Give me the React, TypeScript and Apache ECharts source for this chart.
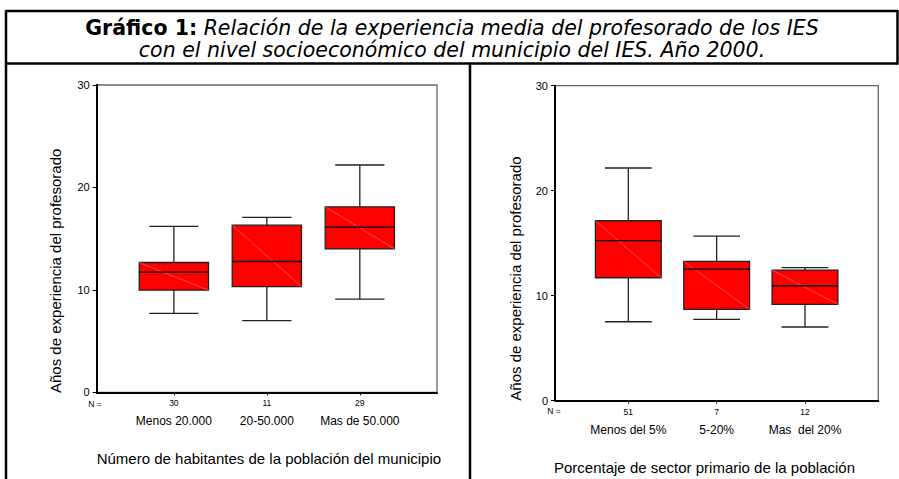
import React, { useEffect, useRef } from "react";
import * as echarts from "echarts";

const categoriesA = ["Menos 20.000", "20-50.000", "Mas de 50.000"];
const countsA = [30, 11, 29];
// [min, Q1, median, Q3, max]
const boxA = [
  [7.7, 9.97, 11.73, 12.67, 16.2],
  [7.0, 10.32, 12.77, 16.32, 17.07],
  [9.09, 14.0, 16.13, 18.11, 22.19],
];
const categoriesB = ["Menos del 5%", "5-20%", "Mas  del 20%"];
const countsB = [51, 7, 12];
const boxB = [
  [7.52, 11.71, 15.24, 17.14, 22.16],
  [7.75, 8.7, 12.54, 13.27, 15.68],
  [7.02, 9.18, 10.95, 12.44, 12.67],
];
const yTicks = [0, 10, 20, 30];
const titleBold = "Gráfico 1:";
const titleLine1 = " Relación de la experiencia media del profesorado de los IES";
const titleLine2 = "con el nivel socioeconómico del municipio del IES. Año 2000.";
const yTitle = "Años de experiencia del profesorado";
const xTitleA = "Número de habitantes de la población del municipio";
const xTitleB = "Porcentaje de sector primario de la población";

const AX_FONT = "Liberation Sans, Arial, sans-serif";

function renderBox(params: any, api: any) {
  const x = api.value(0);
  const lo = api.coord([x, api.value(1)]);
  const q1 = api.coord([x, api.value(2)]);
  const md = api.coord([x, api.value(3)]);
  const q3 = api.coord([x, api.value(4)]);
  const hi = api.coord([x, api.value(5)]);
  const bw = api.size([0.745, 0])[0];
  const cw = api.size([0.53, 0])[0];
  const cx = lo[0];
  const wStyle = { stroke: "#222", lineWidth: 1.3 };
  return {
    type: "group",
    children: [
      { type: "line", shape: { x1: cx, y1: hi[1], x2: cx, y2: lo[1] }, style: wStyle },
      { type: "line", shape: { x1: cx - cw / 2, y1: hi[1], x2: cx + cw / 2, y2: hi[1] }, style: wStyle },
      { type: "line", shape: { x1: cx - cw / 2, y1: lo[1], x2: cx + cw / 2, y2: lo[1] }, style: wStyle },
      {
        type: "rect",
        shape: { x: cx - bw / 2, y: q3[1], width: bw, height: q1[1] - q3[1] },
        style: { fill: "#ff0000", stroke: "#222", lineWidth: 1.3 },
      },
      {
        type: "line",
        shape: { x1: cx - bw / 2, y1: q3[1], x2: cx + bw / 2, y2: q1[1] },
        style: { stroke: "#ff7a7a", lineWidth: 0.6 },
      },
      {
        type: "line",
        shape: { x1: cx - bw / 2, y1: md[1], x2: cx + bw / 2, y2: md[1] },
        style: { stroke: "#000", lineWidth: 1.3 },
      },
    ],
  };
}

function makeX(gridIndex: number, cats: string[], counts: number[]) {
  return {
    type: "value",
    gridIndex,
    min: 0.17,
    max: 3.83,
    splitLine: { show: false },
    axisLine: { show: true, onZero: false, lineStyle: { color: "#000", width: 2 } },
    axisTick: { show: true, customValues: [1, 2, 3], length: 3, lineStyle: { color: "#000", width: 1 } },
    axisLabel: {
      show: true,
      customValues: [1, 2, 3],
      margin: 2,
      formatter: (v: number) => {
        const i = Math.round(v) - 1;
        return `{n|${counts[i]}}\n{c|${cats[i]}}`;
      },
      rich: {
        n: { fontSize: 8.5, lineHeight: 18, color: "#000", fontFamily: AX_FONT, align: "center" },
        c: { fontSize: 12, lineHeight: 18, color: "#000", fontFamily: AX_FONT, align: "center" },
      },
    },
  };
}

function makeY(gridIndex: number) {
  return {
    type: "value",
    gridIndex,
    min: yTicks[0],
    max: yTicks[yTicks.length - 1],
    interval: 10,
    splitLine: { show: false },
    axisLine: { show: true, lineStyle: { color: "#000", width: 2 } },
    axisTick: { show: true, length: 4, lineStyle: { color: "#000", width: 1 } },
    axisLabel: { color: "#000", fontSize: 11, fontFamily: AX_FONT, margin: 7 },
  };
}

export default function App() {
  const ref = useRef<HTMLDivElement>(null);
  useEffect(() => {
    document.body.style.margin = "0";
    const chart = echarts.init(ref.current!, undefined, { renderer: "svg" });
    const lineStyle = { stroke: "#000", lineWidth: 2.5 };
    chart.setOption({
      animation: false,
      backgroundColor: "#fff",
      grid: [
        { left: 96.7, top: 85, width: 340.3, height: 307.3, show: true, borderColor: "#666", borderWidth: 1.3, backgroundColor: "transparent" },
        { left: 555, top: 85.7, width: 323.3, height: 315, show: true, borderColor: "#666", borderWidth: 1.3, backgroundColor: "transparent" },
      ],
      xAxis: [makeX(0, categoriesA, countsA), makeX(1, categoriesB, countsB)],
      yAxis: [makeY(0), makeY(1)],
      series: [
        {
          type: "custom",
          xAxisIndex: 0,
          yAxisIndex: 0,
          renderItem: renderBox,
          encode: { x: 0, y: [1, 2, 3, 4, 5] },
          data: boxA.map((b, i) => [i + 1, ...b]),
        },
        {
          type: "custom",
          xAxisIndex: 1,
          yAxisIndex: 1,
          renderItem: renderBox,
          encode: { x: 0, y: [1, 2, 3, 4, 5] },
          data: boxB.map((b, i) => [i + 1, ...b]),
        },
      ],
      graphic: [
        // frame
        { type: "line", shape: { x1: 6, y1: 11, x2: 898, y2: 11 }, style: lineStyle },
        { type: "line", shape: { x1: 6, y1: 63.5, x2: 898, y2: 63.5 }, style: lineStyle },
        { type: "line", shape: { x1: 6, y1: 10, x2: 6, y2: 479 }, style: lineStyle },
        { type: "line", shape: { x1: 897.5, y1: 10, x2: 897.5, y2: 64.5 }, style: lineStyle },
        { type: "line", shape: { x1: 470, y1: 63.5, x2: 470, y2: 479 }, style: lineStyle },
        // title
        {
          type: "text",
          x: 452,
          y: 28,
          style: {
            text: `{b|${titleBold}}{i|${titleLine1}}`,
            align: "center",
            verticalAlign: "middle",
            rich: {
              b: { fontFamily: "DejaVu Sans", fontWeight: "bold", fontSize: 20.5, fill: "#000" },
              i: { fontFamily: "DejaVu Sans", fontStyle: "italic", fontSize: 20.5, fill: "#000" },
            },
          },
        },
        {
          type: "text",
          x: 452,
          y: 50,
          style: {
            text: titleLine2,
            align: "center",
            verticalAlign: "middle",
            fontFamily: "DejaVu Sans",
            fontStyle: "italic",
            fontSize: 20.5,
            fill: "#000",
          },
        },
        // y titles
        {
          type: "text",
          x: 55,
          y: 393,
          rotation: Math.PI / 2,
          style: { text: yTitle, align: "left", verticalAlign: "middle", fontFamily: AX_FONT, fontSize: 15, fill: "#000" },
        },
        {
          type: "text",
          x: 515,
          y: 400.7,
          rotation: Math.PI / 2,
          style: { text: yTitle, align: "left", verticalAlign: "middle", fontFamily: AX_FONT, fontSize: 15, fill: "#000" },
        },
        // x titles
        {
          type: "text",
          x: 96.7,
          y: 458,
          style: { text: xTitleA, align: "left", verticalAlign: "middle", fontFamily: AX_FONT, fontSize: 15, fill: "#000" },
        },
        {
          type: "text",
          x: 554,
          y: 467,
          style: { text: xTitleB, align: "left", verticalAlign: "middle", fontFamily: AX_FONT, fontSize: 15, fill: "#000" },
        },
        // N =
        {
          type: "text",
          x: 95,
          y: 404,
          style: { text: "N =", align: "center", verticalAlign: "middle", fontFamily: AX_FONT, fontSize: 8.5, fill: "#000" },
        },
        {
          type: "text",
          x: 554,
          y: 411,
          style: { text: "N =", align: "center", verticalAlign: "middle", fontFamily: AX_FONT, fontSize: 8.5, fill: "#000" },
        },
      ],
    });
    return () => chart.dispose();
  }, []);
  return <div ref={ref} style={{ width: 899, height: 479 }} />;
}
